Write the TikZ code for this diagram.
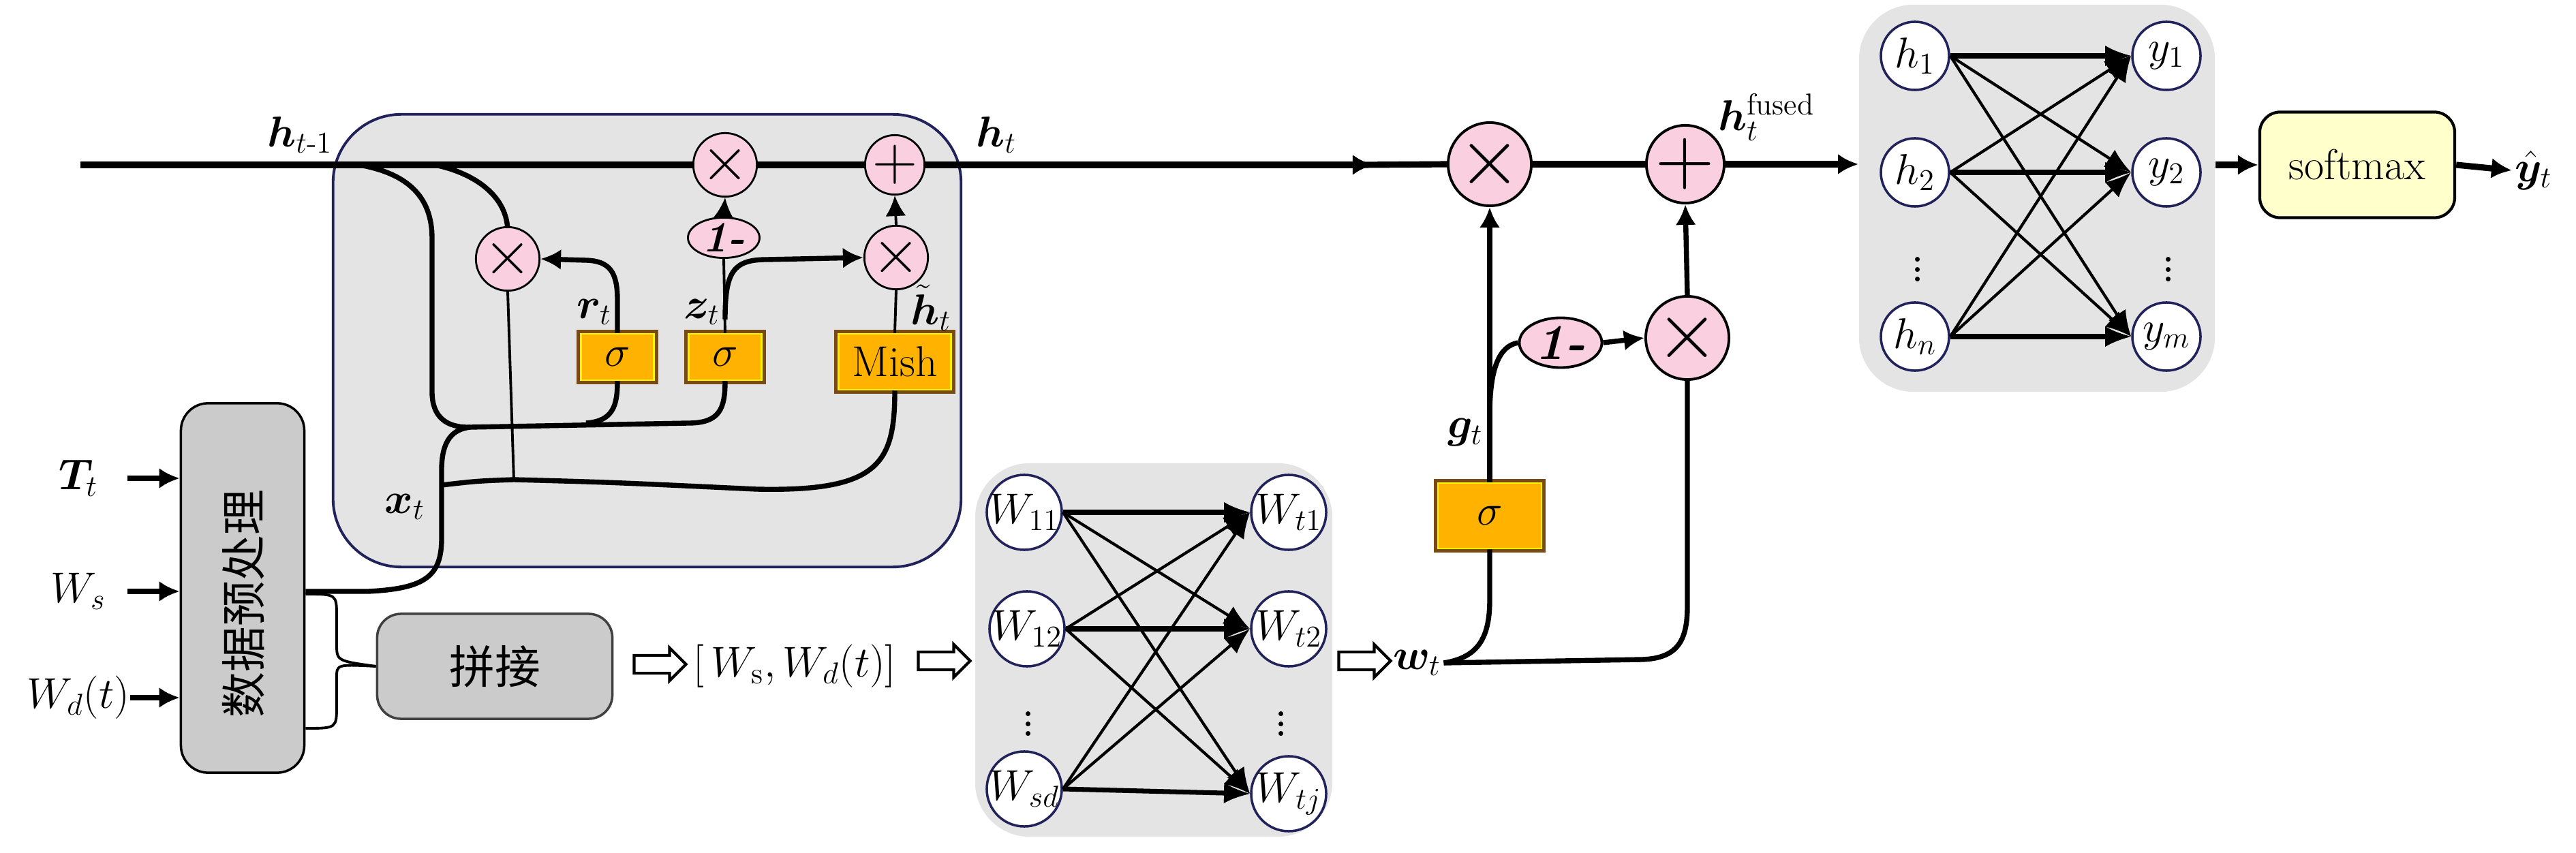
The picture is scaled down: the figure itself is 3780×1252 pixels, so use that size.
\RequirePackage{fix-cm}
\documentclass[tikz,border=0pt]{standalone}
\usepackage{amsmath,amssymb}
\usepackage{fontspec}
\newfontfamily\cjk{Noto Sans CJK SC}
\usepackage{bm}
\usepackage{xcolor}
\usetikzlibrary{calc,arrows.meta,shapes.geometric,shapes.arrows}

\definecolor{oppink}{HTML}{FAD0E0}
\definecolor{actorange}{HTML}{FFB300}
\definecolor{actbrown}{HTML}{7A4A14}
\definecolor{panelgray}{HTML}{E4E4E4}
\definecolor{prepgray}{HTML}{CBCBCB}
\definecolor{navy}{HTML}{22225A}
\definecolor{softyellow}{HTML}{FFFFCC}

\tikzset{
  every node/.style={font=\fontsize{18}{22}\selectfont},
  thinline/.style={line width=1.1pt},
  thickline/.style={line width=2.1pt},
  mainline/.style={line width=2.6pt},
  tip/.style={-{Latex[length=0.3cm,width=0.3cm]}},
  bigtip/.style={-{Latex[length=0.38cm,width=0.3cm]}},
  op/.style={circle, draw, fill=oppink, line width=0.8pt, minimum size=0.77cm,
    inner sep=0pt, font=\fontsize{26}{28}\selectfont},
  bigop/.style={op, minimum size=1.08cm, line width=1.1pt, font=\fontsize{34}{36}\selectfont},
  oneminus/.style={ellipse, draw, fill=oppink, line width=0.8pt, inner sep=0pt},
  act/.style={rectangle, fill=actorange, draw=yellow, line width=0.7pt,
    preaction={draw=actbrown, line width=3.4pt}, inner sep=0pt},
  neuron/.style={circle, draw=navy, fill=white, line width=1pt, inner sep=-4pt},
  panel/.style={rectangle, fill=panelgray, rounded corners=0.8cm},
  hollow/.style={single arrow, draw, fill=white, line width=1.2pt, inner xsep=0pt,
    inner ysep=0.11cm, single arrow head extend=0.11cm, minimum height=0.76cm},
  lbl/.style={inner sep=1pt},
  inlbl/.style={inner sep=0pt, minimum width=1.42cm},
  dots/.style={inner sep=0pt, font=\fontsize{24}{26}\selectfont},
}

\begin{document}
\begin{tikzpicture}[x=0.01cm, y=-0.01cm]
    \useasboundingbox (0,0) rectangle (3780,1252);

    % Panels
    \node[rectangle, fill=panelgray, draw=navy, line width=1.1pt, rounded corners=1cm,
      minimum width=9.21cm, minimum height=6.64cm] (gru) at (949.5,500) {};
    \node[panel, minimum width=5.24cm, minimum height=5.48cm] (nnl) at (1693,954) {};
    \node[panel, minimum width=5.22cm, minimum height=5.68cm] (nnr) at (2989,291) {};

    % Fusion gate operators
    \node[bigop] (bx) at (2186,241) {$\times$};
    \node[bigop] (bp) at (2473,241) {$+$};
    \node[bigop] (bx2) at (2476,496) {$\times$};
    \node[oneminus, line width=1.1pt, minimum width=1.21cm, minimum height=0.73cm,
      font=\fontsize{21}{24}\selectfont] (bm) at (2290,503) {\textbf{\textit{1-}}};
    \node[act, minimum width=1.52cm, minimum height=0.96cm] (sg) at (2186,757) {$\sigma$};

    % Hidden state line
    \coordinate (hin) at (118,242);
    \draw[mainline, tip] (hin) -- (2015,242);
    \draw[mainline] (2000,242) -- (bx.west);
    \node[lbl] (ht1) at (440,198) {$\bm{h}_{t\text{-}1}$};
    \node[lbl] (ht) at (1462,198) {$\bm{h}_t$};

    % GRU cell
    \node[act, minimum width=1.07cm, minimum height=0.68cm] (s1) at (906,524) {$\sigma$};
    \node[act, minimum width=1.07cm, minimum height=0.68cm] (s2) at (1064,524) {$\sigma$};
    \node[act, minimum width=1.65cm, minimum height=0.82cm] (mish) at (1313,531) {Mish};

    \coordinate (ba) at (527,242);
    \coordinate (bb) at (638,242);
    \coordinate (jx) at (690,627);

    % Preprocessing and concatenation
    \node[rectangle, fill=prepgray, draw, line width=1pt, rounded corners=0.4cm,
      minimum width=1.81cm, minimum height=5.42cm] (prep) at (356,863) {};
    \node[rotate=90, font={\cjk\fontsize{19}{22}\selectfont}] (preptxt) at (357,886) {数据预处理};
    \node[rectangle, fill=prepgray, draw=black!75, line width=1pt, rounded corners=0.35cm,
      minimum width=3.45cm, minimum height=1.54cm, font={\cjk\fontsize{19}{22}\selectfont}] (cat) at (726,978) {拼接};

    \draw[thickline] ($(prep.east)+(0,5)$) -- (540,868) .. controls (625,864) and (648,845) .. (648,790)
      -- (648,690) .. controls (648,645) and (665,630) .. (jx);
    \draw[thickline] (ba) .. controls (600,255) and (634,290) .. (634,350) -- (634,575)
      .. controls (634,612) and (655,628) .. (jx);
    \draw[thickline] (jx) -- (1010,621) .. controls (1056,621) and (1064,600) .. (s2.south);
    \draw[thickline] (860,621) .. controls (900,618) and (906,595) .. (s1.south);
    \draw[thickline] (648,712) .. controls (700,706) .. (754,704) .. controls (900,708) .. (1110,718)
      .. controls (1290,722) and (1313,680) .. (mish.south);
    \draw[thickline] (bb) .. controls (700,255) and (745,290) .. (745,340);

    \node[op] (gx1) at (1064,242) {$\times$};
    \node[op] (gp1) at (1313,242) {$+$};
    \node[op] (gx2) at (745,380) {$\times$};
    \node[oneminus, minimum width=1.05cm, minimum height=0.5cm] (gm) at (1062,349) {\textbf{\textit{1-}}};
    \node[op] (gx3) at (1315,378) {$\times$};

    \draw[thinline] (gx2.south) -- (754,704);
    \draw[thickline, tip] (s1.north) -- (906,440) .. controls (906,400) and (895,383) .. (860,382) -- (gx2.east);
    \draw[thinline] (s2.north) -- (gm.south);
    \draw[thickline, tip] ($(s2.north)+(0,-20)$) .. controls (1064,400) and (1075,381) .. (1125,381) -- (gx3.west);
    \draw[thinline, tip] (gm.north) -- (gx1.south);
    \draw[thinline] (mish.north) -- (gx3.south);
    \draw[thinline, tip] (gx3.north) -- (gp1.south);

    \node[lbl] (rt) at (872,458) {$\bm{r}_t$};
    \node[lbl] (zt) at (1030,458) {$\bm{z}_t$};
    \node[lbl] (htl) at (1366,452) {$\tilde{\bm{h}}_t$};
    \node[lbl] (xt) at (594,744) {$\bm{x}_t$};

    % Inputs
    \node[inlbl] (Tt) at (115,702) {$\bm{T}_t$};
    \node[inlbl] (Ws) at (115,868) {$W_s$};
    \node[inlbl] (Wd) at (115,1024) {$W_d(t)$};
    \foreach \n in {Tt,Ws,Wd}
      \draw[thickline, tip] (\n.east) -- (\n.east -| prep.west);

    % Brace into concatenation
    \draw[thinline] ($(prep.east)+(0,9)$) .. controls (494,872) .. (494,905) -- (494,945)
      .. controls (494,970) .. (cat.west);
    \draw[thinline] ($(prep.east)+(0,206)$) .. controls (494,1069) .. (494,1035) -- (494,995)
      .. controls (494,975) .. (cat.west);

    \node[hollow] (ha1) at (962,975) {};
    \node[lbl] (catw) at (1166,978) {$[\,W_{\mathrm{s}}, W_d(t)]$};
    \node[hollow] (ha2) at (1379,970) {};

    % Weight network
    \node[neuron, minimum size=1.1cm] (a1) at (1503,752) {$W_{11}$};
    \node[neuron, minimum size=1.1cm] (a2) at (1507,923) {$W_{12}$};
    \node[neuron, minimum size=1.1cm] (a3) at (1503,1158) {$W_{sd}$};
    \node[neuron, minimum size=1.1cm] (b1) at (1891,752) {$W_{t1}$};
    \node[neuron, minimum size=1.1cm] (b2) at (1891,923) {$W_{t2}$};
    \node[neuron, minimum size=1.1cm] (b3) at (1891,1165) {$W_{tj}$};
    \node[dots] (adots) at (1509,1052) {$\vdots$};
    \node[dots] (bdots) at (1880,1052) {$\vdots$};
    \foreach \a in {a1,a2,a3}
      \foreach \b in {b1,b2,b3}
        \draw[line width=1.2pt, bigtip] (\a.east) -- (\b.west);
    \foreach \i in {1,2,3}
      \draw[line width=2pt, bigtip] (a\i.east) -- (b\i.west);

    \node[hollow] (ha3) at (1996,970) {};
    \node[lbl, anchor=west] (wt) at (2040,973) {$\bm{w}_t$};

    % Fusion gate
    \draw[thickline] (wt.east) .. controls (2170,965) and (2186,935) .. (2186,880) -- (sg.south);
    \draw[thickline] (wt.east) -- (2410,968) .. controls (2462,966) and (2476,940) .. (2476,890) -- (bx2.south);
    \draw[thickline, tip] (sg.north) -- (bx.south);
    \draw[thickline] (2186,610) .. controls (2186,540) and (2200,508) .. (bm.west);
    \draw[thickline, tip] (bm.east) -- (bx2.west);
    \draw[thickline, tip] (bx2.north) -- (bp.south);
    \draw[mainline] (bx.east) -- (bp.west);
    \draw[mainline, tip] (bp.east) -- (bp.east -| nnr.west);
    \node[lbl] (gt) at (2150,635) {$\bm{g}_t$};
    \node[lbl] (hf) at (2592,172) {$\bm{h}_t^{\text{fused}}$};

    % Output network
    \node[neuron, minimum size=1.0cm] (h1) at (2810,82) {$h_1$};
    \node[neuron, minimum size=1.0cm] (h2) at (2810,253) {$h_2$};
    \node[neuron, minimum size=1.0cm] (hn) at (2810,494) {$h_n$};
    \node[neuron, minimum size=1.0cm] (y1) at (3179,82) {$y_1$};
    \node[neuron, minimum size=1.0cm] (y2) at (3179,253) {$y_2$};
    \node[neuron, minimum size=1.0cm] (ym) at (3179,494) {$y_m$};
    \node[dots] (hdots) at (2814,385) {$\vdots$};
    \node[dots] (ydots) at (3182,385) {$\vdots$};
    \foreach \a in {h1,h2,hn}
      \foreach \b in {y1,y2,ym}
        \draw[line width=1.2pt, bigtip] (\a.east) -- (\b.west);
    \foreach \a/\b in {h1/y1,h2/y2,hn/ym}
      \draw[line width=2pt, bigtip] (\a.east) -- (\b.west);

    \node[rectangle, fill=softyellow, draw, line width=1.2pt, rounded corners=0.3cm,
      minimum width=2.86cm, minimum height=1.55cm] (soft) at (3459,242) {softmax};
    \node[lbl, anchor=west] (yhat) at (3686,250) {$\hat{\bm{y}}_t$};
    \draw[mainline, tip] (nnr.east |- soft.west) -- (soft.west);
    \draw[mainline, tip] (soft.east) -- (yhat.west);
\end{tikzpicture}
\end{document}
